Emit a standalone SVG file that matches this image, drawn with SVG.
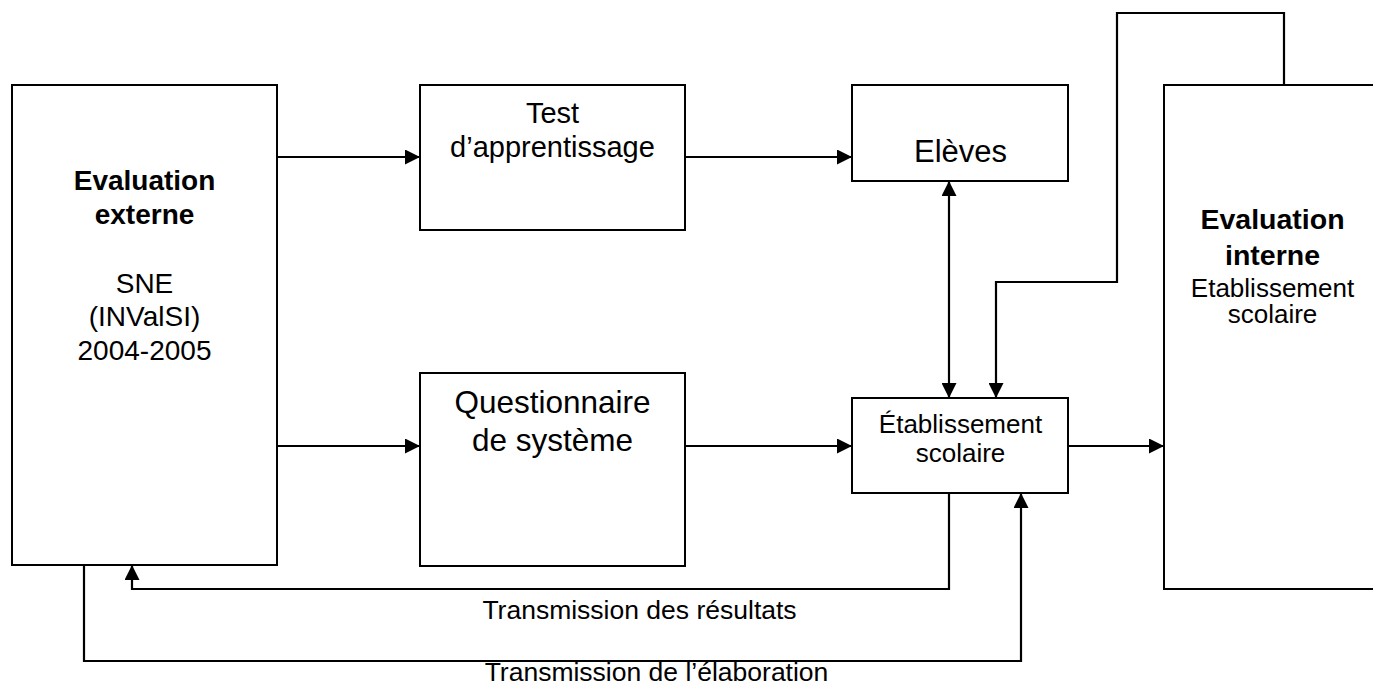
<svg xmlns="http://www.w3.org/2000/svg" width="1373" height="682" viewBox="0 0 1373 682">
<style>
.box{fill:#fff;stroke:#000;stroke-width:2}
.t{font-family:"Liberation Sans",Arial,sans-serif;fill:#000;text-anchor:middle}
.b{font-weight:bold}
.c{fill:none;stroke:#000;stroke-width:2.2}
</style>
<defs>
<marker id="ah" viewBox="0 0 15 15" refX="15" refY="7.5" markerWidth="15" markerHeight="15" markerUnits="userSpaceOnUse" orient="auto-start-reverse">
<path d="M0,0 L15,7.5 L0,15 z" fill="#000"/>
</marker>
</defs>
<rect width="1373" height="682" fill="#fff"/>
<g id="externe">
<rect class="box" x="12" y="85" width="265" height="480"/>
<text class="t b" x="144.5" y="190" font-size="28">Evaluation</text>
<text class="t b" x="144.5" y="224" font-size="28">externe</text>
<text class="t" x="144.5" y="292.5" font-size="28">SNE</text>
<text class="t" x="144.5" y="326" font-size="28">(INValSI)</text>
<text class="t" x="144.5" y="359.5" font-size="28">2004-2005</text>
</g>
<g id="test">
<rect class="box" x="420" y="85" width="265" height="145"/>
<text class="t" x="552.5" y="123" font-size="29">Test</text>
<text class="t" x="552.5" y="157" font-size="29">d’apprentissage</text>
</g>
<g id="questionnaire">
<rect class="box" x="420" y="373" width="265" height="193"/>
<text class="t" x="552.5" y="413" font-size="31.5">Questionnaire</text>
<text class="t" x="552.5" y="450.5" font-size="31.5">de système</text>
</g>
<g id="eleves">
<rect class="box" x="852" y="85" width="216" height="96"/>
<text class="t" x="960.5" y="161.5" font-size="31">Elèves</text>
</g>
<g id="etablissement">
<rect class="box" x="852" y="398" width="216" height="95"/>
<text class="t" x="960.5" y="433" font-size="26">Établissement</text>
<text class="t" x="960.5" y="461.5" font-size="26">scolaire</text>
</g>
<g id="interne">
<rect class="box" x="1164" y="85" width="220" height="504"/>
<text class="t b" x="1272.5" y="228.5" font-size="28.5">Evaluation</text>
<text class="t b" x="1272.5" y="264.5" font-size="28.5">interne</text>
<text class="t" x="1272.5" y="296.5" font-size="26">Etablissement</text>
<text class="t" x="1272.5" y="322.5" font-size="26">scolaire</text>
</g>
<g id="connectors">
<path class="c" d="M277,157 H420" marker-end="url(#ah)"/>
<path class="c" d="M277,446 H420" marker-end="url(#ah)"/>
<path class="c" d="M685,157 H852" marker-end="url(#ah)"/>
<path class="c" d="M685,446 H852" marker-end="url(#ah)"/>
<path class="c" d="M949,181 V398" marker-start="url(#ah)" marker-end="url(#ah)"/>
<path class="c" d="M1284,85 V13 H1117 V282 H996 V398" marker-end="url(#ah)"/>
<path class="c" d="M1068,446 H1164" marker-end="url(#ah)"/>
<path class="c" d="M949,493 V589 H132 V565" marker-end="url(#ah)"/>
<path class="c" d="M84,565 V661 H1021 V493" marker-end="url(#ah)"/>
<text class="t" x="639.5" y="619" font-size="26.5">Transmission des résultats</text>
<text class="t" x="656.5" y="681" font-size="26.5">Transmission de l’élaboration</text>
</g>
</svg>
